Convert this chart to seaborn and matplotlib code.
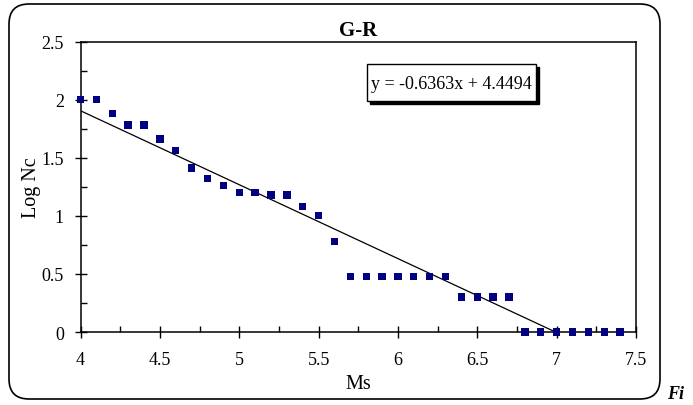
import numpy as np
import pandas as pd
import matplotlib
matplotlib.use("Agg")
import matplotlib.pyplot as plt
from matplotlib.patches import FancyBboxPatch, Rectangle
from matplotlib.ticker import MultipleLocator
import seaborn as sns

# ---- data ----
ms = [4.0, 4.1, 4.2, 4.3, 4.4, 4.5, 4.6, 4.7, 4.8, 4.9,
      5.0, 5.1, 5.2, 5.3, 5.4, 5.5, 5.6, 5.7, 5.8, 5.9,
      6.0, 6.1, 6.2, 6.3, 6.4, 6.5, 6.6, 6.7, 6.8, 6.9,
      7.0, 7.1, 7.2, 7.3, 7.4]
log_nc = [2.0, 2.0, 1.88, 1.78, 1.78, 1.66, 1.56, 1.41, 1.32, 1.26,
          1.20, 1.20, 1.18, 1.18, 1.08, 1.0, 0.78, 0.48, 0.48, 0.48,
          0.48, 0.48, 0.48, 0.48, 0.30, 0.30, 0.30, 0.30, 0.0, 0.0,
          0.0, 0.0, 0.0, 0.0, 0.0]
slope = -0.6363
intercept = 4.4494
title = "G-R"
xlabel = "Ms"
ylabel = "Log Nc"
x_ticks = [4, 4.5, 5, 5.5, 6, 6.5, 7, 7.5]
x_ticklabels = ["4", "4.5", "5", "5.5", "6", "6.5", "7", "7.5"]
y_ticks = [0, 0.5, 1, 1.5, 2, 2.5]
y_ticklabels = ["0", "0.5", "1", "1.5", "2", "2.5"]

df = pd.DataFrame({"Ms": ms, "LogNc": log_nc})
fit_x = np.array([ms[0], ms[-1]])
fit_df = pd.DataFrame({"Ms": fit_x, "Fit": slope * fit_x + intercept})

sns.set_theme(style="white")
plt.rcParams["font.family"] = ["Liberation Serif", "DejaVu Serif"]

W, H = 693, 406
fig = plt.figure(figsize=(W / 100, H / 100), dpi=100)
fig.patch.set_facecolor("white")

# background axes in pixel units (y downward)
bg = fig.add_axes([0, 0, 1, 1], zorder=-1)
bg.set_xlim(0, W)
bg.set_ylim(H, 0)
bg.axis("off")
bg.add_patch(FancyBboxPatch((9, 5), 660 - 9, 400 - 5,
                            boxstyle="round,pad=0,rounding_size=20",
                            facecolor="white", edgecolor="black",
                            linewidth=1.2))

L, R, T, B = 80.5, 636, 42.5, 333
ax = fig.add_axes([L / W, 1 - B / H, (R - L) / W, (B - T) / H], zorder=1)
ax.set_facecolor("none")

sns.lineplot(data=fit_df, x="Ms", y="Fit", ax=ax, color="black",
             linewidth=0.9, zorder=2)
sns.scatterplot(data=df, x="Ms", y="LogNc", ax=ax, marker="s", s=28,
                color="#000080", edgecolor="none", zorder=3, clip_on=False)

ax.set_xlim(4, 7.5)
ax.set_ylim(0, 2.5)
ax.set_xticks(x_ticks)
ax.set_xticklabels(x_ticklabels)
ax.set_yticks(y_ticks)
ax.set_yticklabels(y_ticklabels)
ax.xaxis.set_minor_locator(MultipleLocator(0.25))
ax.yaxis.set_minor_locator(MultipleLocator(0.25))
ax.tick_params(axis="both", which="major", direction="inout", length=8,
               width=1, color="black", labelsize=13, labelcolor="black",
               bottom=True, left=True)
ax.tick_params(axis="y", which="major", pad=8)
ax.tick_params(axis="x", which="major", pad=10)
ax.tick_params(axis="both", which="minor", direction="in", length=4,
               width=1, color="black", bottom=True, left=True)
for sp in ax.spines.values():
    sp.set_visible(True)
    sp.set_color("black")
    sp.set_linewidth(1.1)

ax.set_xlabel(xlabel, fontsize=14.5, color="black", labelpad=4)
ax.set_ylabel(ylabel, fontsize=14.5, color="black", labelpad=0)
ax.set_title(title, fontsize=15, fontweight="bold", color="black", pad=5)

# equation box with shadow (pixel coordinates)
bx0, bx1, by0, by1 = 367, 536, 65, 102
eq = fig.add_axes([0, 0, 1, 1], zorder=5)
eq.set_xlim(0, W)
eq.set_ylim(H, 0)
eq.axis("off")
eq.add_patch(Rectangle((bx0 + 3, by0 + 3), bx1 - bx0, by1 - by0,
                       facecolor="black", edgecolor="black"))
eq.add_patch(Rectangle((bx0, by0), bx1 - bx0, by1 - by0,
                       facecolor="white", edgecolor="black", linewidth=1.0))
eq.text((bx0 + bx1) / 2, (by0 + by1) / 2 + 1,
        f"y = {slope:.4f}x + {intercept:.4f}", ha="center", va="center",
        fontsize=13, color="black")
eq.text(667, 399, "Fi", fontsize=13, fontweight="bold",
        fontstyle="italic", ha="left", va="baseline", color="black")

fig.savefig("out.png", dpi=100)
